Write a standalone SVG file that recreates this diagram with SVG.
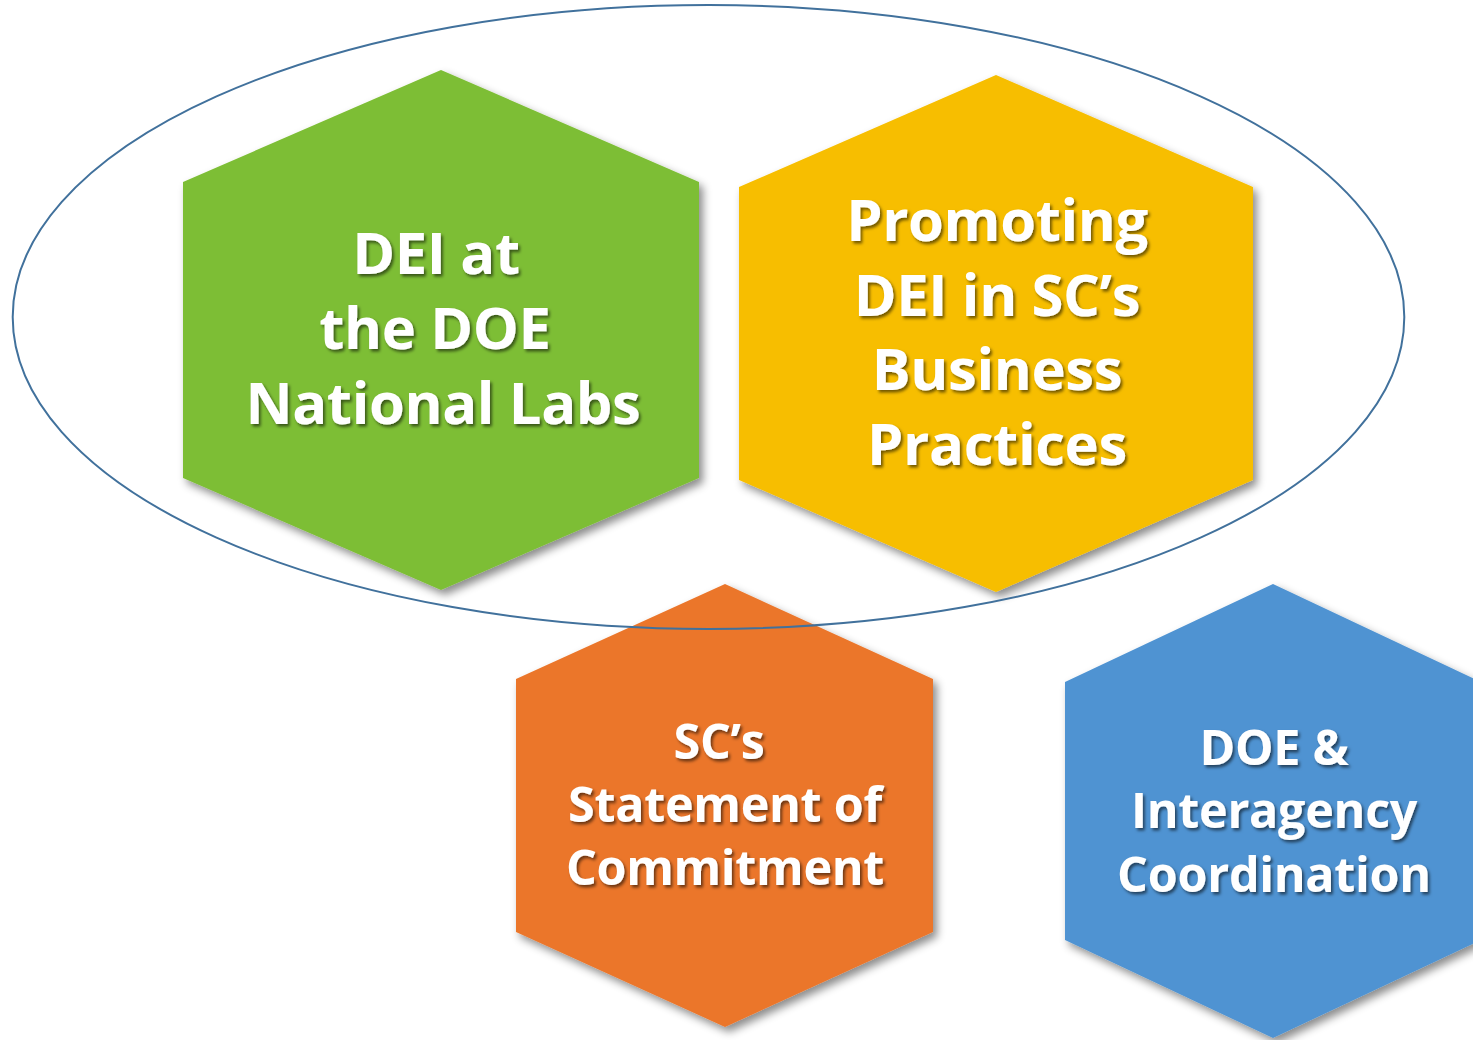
<svg xmlns="http://www.w3.org/2000/svg" width="1473" height="1040" viewBox="0 0 1473 1040">
  <defs>
    <filter id="hexShadow" x="-10%" y="-10%" width="125%" height="125%">
      <feDropShadow dx="4" dy="5" stdDeviation="4" flood-color="#000" flood-opacity="0.45"/>
    </filter>
    <filter id="textShadow" x="-10%" y="-20%" width="125%" height="150%">
      <feDropShadow dx="2" dy="2.5" stdDeviation="1.5" flood-color="#000" flood-opacity="0.55"/>
    </filter>
  </defs>
  <style>
    .lbl { font-family: "Open Sans", "Liberation Sans", sans-serif; font-weight: 700; fill: #ffffff; text-anchor: middle; filter: url(#textShadow); }
    .big { font-size: 58px; letter-spacing: -0.4px; }
    .small { font-size: 48.5px; letter-spacing: -0.3px; }
    .hex { filter: url(#hexShadow); }
  </style>
  <rect width="1473" height="1040" fill="#ffffff"/>

  <g id="node-labs">
    <polygon class="hex" points="441,70 699,182 699,478 441,590 183,478 183,182" fill="#7DBE35"/>
    <text class="lbl big" x="436" y="274">DEI at</text>
    <text class="lbl big" x="435" y="349">the DOE</text>
    <text class="lbl big" x="443" y="424">National Labs</text>
  </g>

  <g id="node-business">
    <polygon class="hex" points="996,75 1253,187 1253,480 996,592 739,480 739,187" fill="#F7BE00"/>
    <text class="lbl big" x="997" y="241">Promoting</text>
    <text class="lbl big" x="997" y="316">DEI in SC’s</text>
    <text class="lbl big" x="997" y="390">Business</text>
    <text class="lbl big" x="997" y="465">Practices</text>
  </g>

  <g id="node-statement">
    <polygon class="hex" points="725,584 933,679 933,932 725,1027 516,932 516,679" fill="#EB762B"/>
    <text class="lbl small" x="719" y="759">SC’s</text>
    <text class="lbl small" x="725" y="822">Statement of</text>
    <text class="lbl small" x="725" y="885">Commitment</text>
  </g>

  <g id="node-interagency">
    <polygon class="hex" points="1273,584 1481,682 1481,940 1273,1038 1065,940 1065,682" fill="#4F93D2"/>
    <text class="lbl small" x="1274" y="765">DOE &amp;</text>
    <text class="lbl small" x="1274" y="828">Interagency</text>
    <text class="lbl small" x="1274" y="892">Coordination</text>
  </g>

  <g id="connectors">
    <ellipse id="grouping-ellipse" cx="708.5" cy="317" rx="695.8" ry="312" fill="none" stroke="#41719C" stroke-width="2"/>
  </g>
</svg>
